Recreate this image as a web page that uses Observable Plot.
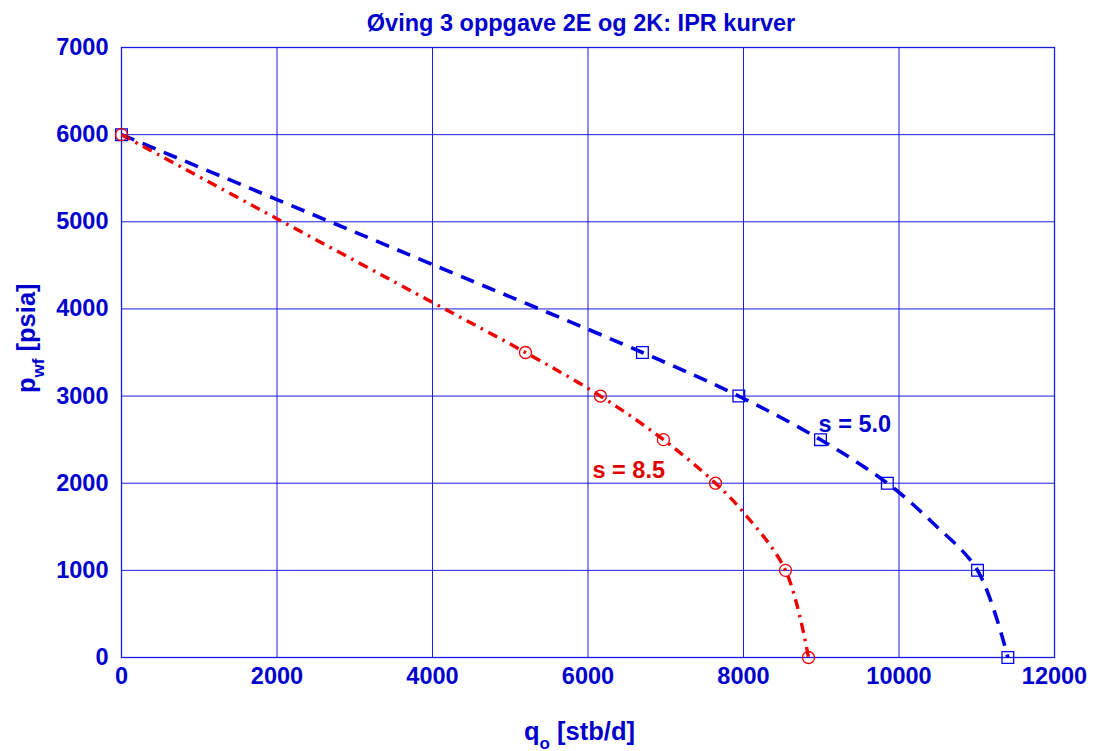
<!DOCTYPE html>
<html>
<head>
<meta charset="utf-8">
<script src="https://cdn.jsdelivr.net/npm/d3@7"></script>
<script src="https://cdn.jsdelivr.net/npm/@observablehq/plot@0.6"></script>
<style>
  html, body { margin: 0; padding: 0; background: #fff; }
  #chart svg { display: block; }
</style>
</head>
<body>
<div id="chart"></div>
<script>
// ---- data ----
const titleText = "Øving 3 oppgave 2E og 2K: IPR kurver";
const xTicks = [0, 2000, 4000, 6000, 8000, 10000, 12000];
const yTicks = [0, 1000, 2000, 3000, 4000, 5000, 6000, 7000];

// s = 5.0 (blue squares)
const s5Rate = [0, 6700, 7940, 8990, 9850, 11010, 11400];
const s5Pwf  = [6000, 3500, 3000, 2500, 2000, 1000, 0];
// curve points
const s5LineRate = [0, 2000, 4000, 6700, 7940, 8990, 9850, 10440, 11010, 11400];
const s5LinePwf  = [6000, 5255, 4510, 3500, 3000, 2500, 2000, 1540, 1000, 0];

// s = 8.5 (red circles)
const s85Rate = [0, 5196, 6160, 6970, 7640, 8540, 8836];
const s85Pwf  = [6000, 3500, 3000, 2500, 2000, 1000, 0];
// curve points
const s85LineRate = [0, 2000, 4000, 5196, 6160, 6970, 7640, 8000, 8540, 8836];
const s85LinePwf  = [6000, 5035, 4075, 3500, 3000, 2500, 2000, 1665, 1000, 0];

const labels = [
  {x: 8965, y: 2670, text: "s = 5.0", color: "#0000cc"},
  {x: 6058, y: 2146, text: "s = 8.5", color: "#e00000"}
];

const toRows = (xs, ys) => xs.map((x, i) => ({x, y: ys[i]}));
const s5Pts = toRows(s5Rate, s5Pwf);
const s85Pts = toRows(s85Rate, s85Pwf);
const s5Line = toRows(s5LineRate, s5LinePwf);
const s85Line = toRows(s85LineRate, s85LinePwf);

const BLUE = "#0000cc";
const GRID = "#1a1ae6";
const FONT = "'Liberation Sans', Arial, Helvetica, sans-serif";

const plot = Plot.plot({
  width: 1094,
  height: 751,
  marginLeft: 121,
  marginRight: 40,
  marginTop: 47,
  marginBottom: 94,
  style: {fontFamily: FONT, background: "#fff", overflow: "visible"},
  x: {domain: [0, 12000]},
  y: {domain: [0, 7000]},
  marks: [
    Plot.gridX(xTicks, {stroke: GRID, strokeOpacity: 1, strokeWidth: 1}),
    Plot.gridY(yTicks, {stroke: GRID, strokeOpacity: 1, strokeWidth: 1}),
    Plot.frame({stroke: GRID, strokeWidth: 1.3}),
    Plot.axisX(xTicks, {tickSize: 0, tickPadding: 10, fontSize: 23.5, fontWeight: "bold",
      fill: BLUE, label: null, tickFormat: d => String(d)}),
    Plot.axisY(yTicks, {tickSize: 0, tickPadding: 13, fontSize: 23.5, fontWeight: "bold",
      fill: BLUE, label: null, tickFormat: d => String(d)}),
    Plot.line(s5Line, {x: "x", y: "y", stroke: "#0000dd", strokeWidth: 3.6,
      strokeDasharray: "14,9", strokeLinecap: "butt", curve: "catmull-rom"}),
    Plot.line(s85Line, {x: "x", y: "y", stroke: "#ee0000", strokeWidth: 3.4,
      strokeDasharray: "10,6,2.5,6", strokeLinecap: "butt", curve: "catmull-rom"}),
    Plot.dot(s5Pts, {x: "x", y: "y", symbol: "square", r: 6.6, stroke: "#0000ee",
      strokeWidth: 1.3, fill: "none"}),
    Plot.dot(s85Pts, {x: "x", y: "y", symbol: "circle", r: 6, stroke: "#ee0000",
      strokeWidth: 1.3, fill: "none"}),
    Plot.text(labels, {x: "x", y: "y", text: "text", fill: "color", textAnchor: "start",
      fontSize: 23.5, fontWeight: "bold"})
  ]
});

document.getElementById("chart").appendChild(plot);

// title and axis labels with subscripts
const svg = d3.select(plot);
svg.append("text")
  .attr("x", 581).attr("y", 31)
  .attr("text-anchor", "middle")
  .attr("fill", BLUE)
  .attr("font-family", FONT)
  .attr("font-weight", "bold")
  .attr("font-size", 23.5)
  .text(titleText);

const xl = svg.append("text")
  .attr("x", 524).attr("y", 740)
  .attr("text-anchor", "start")
  .attr("fill", BLUE)
  .attr("font-family", FONT)
  .attr("font-weight", "bold")
  .attr("font-size", 25.5);
xl.append("tspan").text("q");
xl.append("tspan").attr("font-size", 17).attr("dy", 9).text("o");
xl.append("tspan").attr("dy", -9).text(" [stb/d]");

const yl = svg.append("text")
  .attr("transform", "translate(35,393) rotate(-90)")
  .attr("text-anchor", "start")
  .attr("fill", BLUE)
  .attr("font-family", FONT)
  .attr("font-weight", "bold")
  .attr("font-size", 25.5);
yl.append("tspan").text("p");
yl.append("tspan").attr("font-size", 17).attr("dy", 9).text("wf");
yl.append("tspan").attr("dy", -9).text(" [psia]");
</script>
</body>
</html>
